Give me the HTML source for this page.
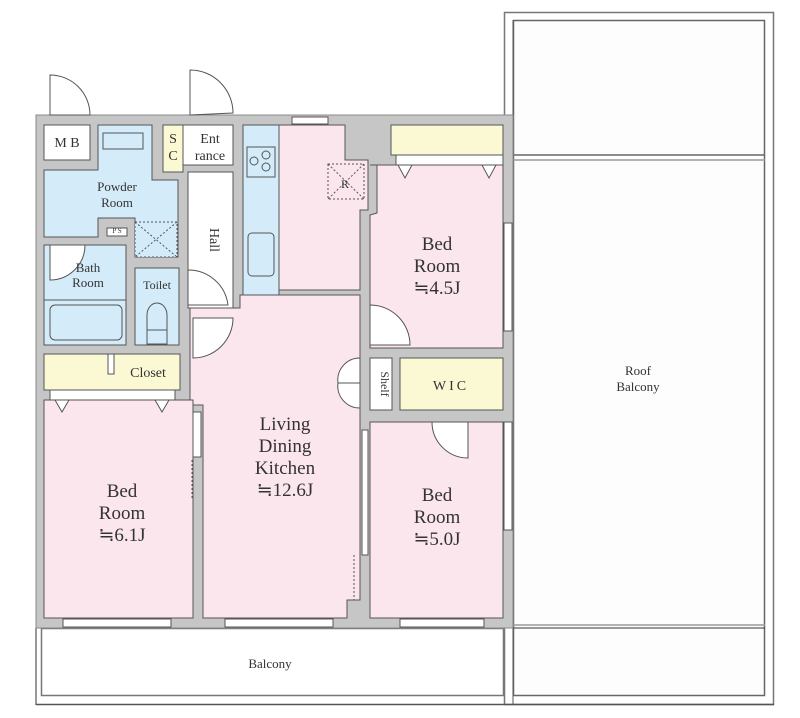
<!DOCTYPE html>
<html><head><style>
html,body{margin:0;padding:0;background:#fff;}
svg{display:block;}
text{font-family:"Liberation Serif",serif;fill:#333;}
</style></head><body>
<svg width="800" height="718" viewBox="0 0 800 718" xmlns="http://www.w3.org/2000/svg">
<!-- roof balcony -->
<rect x="504.5" y="12.5" width="269" height="692" fill="#fff" stroke="#777" stroke-width="1.5"/>
<rect x="513.5" y="20.5" width="251" height="675" fill="#fdfdfd" stroke="#666" stroke-width="1.5"/>
<line x1="513" y1="155" x2="765" y2="155" stroke="#666" stroke-width="1.5"/>
<line x1="513" y1="160" x2="765" y2="160" stroke="#999" stroke-width="1.5"/>
<line x1="513" y1="625" x2="765" y2="625" stroke="#999" stroke-width="1.5"/>
<line x1="513" y1="628" x2="765" y2="628" stroke="#333" stroke-width="1"/>
<line x1="513" y1="20" x2="513" y2="705" stroke="#555" stroke-width="1"/>
<!-- balcony -->
<rect x="41.5" y="628.5" width="462" height="67" fill="#fff" stroke="#777" stroke-width="1.5"/>
<line x1="36" y1="628" x2="36" y2="705" stroke="#777" stroke-width="1.5"/>
<line x1="36" y1="704.5" x2="774" y2="704.5" stroke="#555" stroke-width="1.5"/>
<line x1="36" y1="628" x2="513" y2="628" stroke="#222" stroke-width="1"/>
<!-- building walls -->
<rect x="36" y="115" width="477" height="513" fill="#c6c6c6" stroke="#888" stroke-width="1"/>
<g stroke="#555" stroke-width="1">
<!-- MB -->
<rect x="44" y="125" width="46" height="35" fill="#fff"/>
<!-- powder -->
<polygon points="44,170 98,170 98,125 152,125 152,180 178,180 178,257 135,257 135,218 98,218 98,237 44,237" fill="#d4ecf9"/>
<rect x="135" y="222" width="42" height="35" fill="#d4ecf9" stroke-dasharray="2,2"/>
<line x1="135" y1="222" x2="177" y2="257" stroke-dasharray="2,2"/>
<line x1="177" y1="222" x2="135" y2="257" stroke-dasharray="2,2"/>
<rect x="107" y="228" width="20" height="8" fill="#fff"/>
<path d="M103,133 h40 v16 h-40 z" fill="#d4ecf9" rx="3"/>
<!-- SC, entrance, hall -->
<rect x="163" y="125" width="20" height="47" fill="#fbf8d4"/>
<rect x="183" y="125" width="50" height="40" fill="#fff"/>
<rect x="188" y="172" width="45" height="136" fill="#fff"/>
<!-- bath -->
<rect x="44" y="245" width="82" height="100" fill="#d4ecf9"/>
<line x1="44" y1="300" x2="126" y2="300"/>
<rect x="50" y="305" width="72" height="35" rx="5" fill="#d4ecf9"/>
<!-- toilet -->
<rect x="135" y="268" width="44" height="77" fill="#d4ecf9"/>
<path d="M147,330 v-15 a10,12 0 0 1 20,0 v15 z" fill="#d4ecf9"/>
<rect x="147" y="330" width="20" height="14" fill="#d4ecf9"/>
<!-- closet -->
<rect x="44" y="354" width="136" height="36" fill="#fbf8d4"/>
<rect x="108" y="354" width="6" height="20" fill="#fff"/>
<!-- kitchen -->
<rect x="243" y="125" width="36" height="170" fill="#d4ecf9"/>
<rect x="247" y="147" width="28" height="30" fill="#d4ecf9"/>
<circle cx="254" cy="161" r="4" fill="none"/><circle cx="266" cy="155" r="4" fill="none"/><circle cx="266" cy="167" r="4" fill="none"/>
<rect x="248" y="233" width="26" height="43" rx="4" fill="#d4ecf9"/>
<polygon points="279,125 345,125 345,160 368,160 368,210 360,210 360,290 279,290" fill="#fbe6ee"/>
<rect x="328" y="164" width="36" height="35" fill="#fbe6ee" stroke-dasharray="2,2"/>
<line x1="328" y1="164" x2="364" y2="199" stroke-dasharray="2,2"/><line x1="364" y1="164" x2="328" y2="199" stroke-dasharray="2,2"/>
<rect x="292" y="117" width="36" height="7" fill="#fff"/>
<!-- bed 4.5 -->
<rect x="391" y="125" width="112" height="30" fill="#fbf8d4"/>
<rect x="396" y="155" width="107" height="10" fill="#fff"/>
<polygon points="370,165 503,165 503,348 370,348 370,215 377,213 377,165" fill="#fbe6ee"/>
<polygon points="398,165 412,165 405,178" fill="#fff"/><polygon points="482,165 496,165 489,178" fill="#fff"/>
<!-- shelf, WIC -->
<rect x="370" y="358" width="22" height="52" fill="#fff"/>
<rect x="400" y="358" width="103" height="52" fill="#fbf8d4"/>
<!-- bed 5.0 -->
<rect x="370" y="422" width="133" height="196" fill="#fbe6ee"/>
<!-- LDK -->
<polygon points="190,308 240,308 240,295 360,295 360,600 347,600 347,618 203,618 203,405 190,405" fill="#fbe6ee"/>
<!-- bed 6.1 -->
<rect x="44" y="400" width="149" height="218" fill="#fbe6ee"/>
<rect x="50" y="390" width="125" height="10" fill="#fff"/>
<polygon points="55,400 69,400 62,412" fill="#fff"/><polygon points="155,400 169,400 162,412" fill="#fff"/>
</g>
<!-- windows -->
<g fill="#fff" stroke="#555" stroke-width="1">
<rect x="63" y="619" width="108" height="8"/>
<rect x="225" y="619" width="108" height="8"/>
<rect x="400" y="619" width="84" height="8"/>
<rect x="504" y="223" width="8" height="108"/>
<rect x="504" y="422" width="8" height="108"/>
<rect x="362" y="430" width="6" height="125"/>
<rect x="193" y="412" width="8" height="45"/>
</g>
<!-- doors -->
<g fill="#fff" stroke="#555" stroke-width="1">
<path d="M50,115 V75 A40,40 0 0 1 90,115 Z"/>
<path d="M190,115 V70 A43,43 0 0 1 233,113 Z"/>
<path d="M188,270 A40,40 0 0 1 228,305 H188 Z"/>
<path d="M193,318 H233 A40,40 0 0 1 193,358 Z"/>
<path d="M50,245 H85 A35,35 0 0 1 50,280 Z"/>
<path d="M370,305 A40,40 0 0 1 410,345 H370 Z"/>
<path d="M432,422 H468 V458 A36,36 0 0 1 432,422 Z"/>
<path d="M360,358 A22,22 0 0 0 338,383 H360 Z"/>
<path d="M360,408 A22,22 0 0 1 338,383 H360 Z"/>
</g>
<g stroke="#555" stroke-dasharray="2,2"><line x1="192" y1="460" x2="192" y2="500"/><line x1="354" y1="555" x2="354" y2="600"/></g>
<!-- labels -->
<g font-size="15" text-anchor="middle">
<text x="67" y="147" font-size="14">M B</text>
<text x="173" y="143" font-size="14">S</text><text x="173" y="160" font-size="14">C</text>
<text x="210" y="143" font-size="14">Ent</text><text x="210" y="160" font-size="14">rance</text>
<text x="117" y="191" font-size="13">Powder</text><text x="117" y="207" font-size="13">Room</text>
<text x="88" y="272" font-size="13">Bath</text><text x="88" y="287" font-size="13">Room</text>
<text x="157" y="289" font-size="12">Toilet</text>
<text x="148" y="377" font-size="14">Closet</text>
<text x="210" y="240" font-size="14" transform="rotate(90 210 240)">Hall</text>
<text x="381" y="384" font-size="12" transform="rotate(90 381 384)">Shelf</text>
<text x="345" y="188" font-size="12">R</text>
<text x="117" y="233" font-size="7">P S</text>
<text x="451" y="390" font-size="14" letter-spacing="3">WIC</text>
<text x="437" y="250" font-size="19">Bed</text><text x="437" y="272" font-size="19">Room</text><text x="437" y="294" font-size="19">≒4.5J</text>
<text x="285" y="430" font-size="19">Living</text><text x="285" y="452" font-size="19">Dining</text><text x="285" y="474" font-size="19">Kitchen</text><text x="285" y="496" font-size="19">≒12.6J</text>
<text x="122" y="497" font-size="19">Bed</text><text x="122" y="519" font-size="19">Room</text><text x="122" y="541" font-size="19">≒6.1J</text>
<text x="437" y="501" font-size="19">Bed</text><text x="437" y="523" font-size="19">Room</text><text x="437" y="545" font-size="19">≒5.0J</text>
<text x="270" y="668" font-size="13">Balcony</text>
<text x="638" y="375" font-size="13">Roof</text><text x="638" y="391" font-size="13">Balcony</text>
</g>
</svg>
</body></html>
